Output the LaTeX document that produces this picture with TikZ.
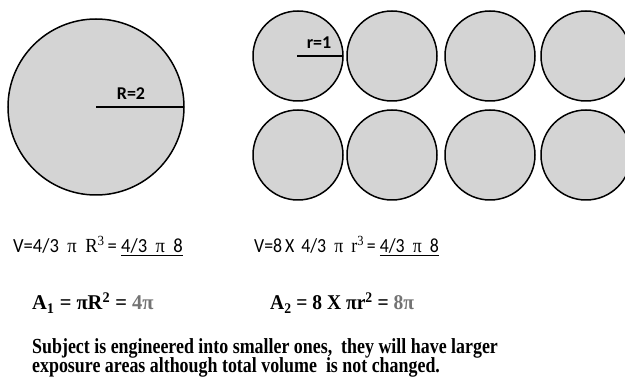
\documentclass[tikz,border=0pt]{standalone}
\usepackage{fontspec}
\setmainfont{Liberation Serif}
\newfontfamily\carl{Carlito}
\definecolor{fillg}{gray}{0.83}
\definecolor{pig}{gray}{0.45}
\tikzset{
  ball/.style={draw=black, line width=1.5pt, fill=fillg},
  radline/.style={line width=2pt},
  rlab/.style={font=\carl\bfseries\fontsize{18}{20}\selectfont, inner sep=0pt},
  vtext/.style={font=\carl\fontsize{20}{22}\selectfont, anchor=base west, inner sep=0pt},
  atext/.style={font=\bfseries\fontsize{21}{22}\selectfont, anchor=base west, inner sep=0pt},
  btext/.style={font=\bfseries\fontsize{21.5}{22}\selectfont, anchor=base west, inner sep=0pt, xscale=0.833},
}
\newcommand{\sr}[1]{{\rmfamily #1}}
\begin{document}
\begin{tikzpicture}[x=1pt,y=-1pt]
\useasboundingbox (0,0) rectangle (625,385);
\begin{scope}
\clip (0,0) rectangle (625,385);
% big circle
\draw[ball] (96,107) circle (88);
\coordinate (bc) at (96,107);
\coordinate (be) at (184,107);
\draw[radline] (bc) -- (be);
\node[rlab] (Rlab) at (131,94) {R=2};
% small circles
\foreach \cx [count=\i] in {298,392,490,586}{
  \draw[ball] (\cx,56) circle (45);
  \draw[ball] (\cx,155) circle (45);
}
\coordinate (sc) at (297,56);
\coordinate (se) at (343,56);
\draw[radline] (sc) -- (se);
\node[rlab] (rlab) at (319,43) {r=1};
\end{scope}
% volume lines
\node[vtext, xscale=0.93] (v1) at (13,253) {V=4/3\ \ \sr{π}\ \ \sr{R}\textsuperscript{\sr{3}}\,= \underline{4/3\ \ \sr{π}\ \ 8}};
\node[vtext, xscale=0.89] (v2) at (254,253) {V=8\,X\, 4/3\ \ \sr{π}\ \ \sr{r}\textsuperscript{\sr{3}}\,= \underline{4/3\ \ \sr{π}\ \ 8}};
% area lines
\node[atext, xscale=0.975] (a1) at (32,310) {A\textsubscript{1} = πR\textsuperscript{2} = \textcolor{pig}{4π}};
\node[atext, xscale=0.93] (a2) at (270,310) {A\textsubscript{2} = 8 X πr\textsuperscript{2} = \textcolor{pig}{8π}};
% bottom text
\node[btext] (b1) at (32,353.5) {Subject is engineered into smaller ones,\ \ they will have larger};
\node[btext] (b2) at (32,373) {exposure areas although total volume\ \ is not changed.};
\end{tikzpicture}
\end{document}
